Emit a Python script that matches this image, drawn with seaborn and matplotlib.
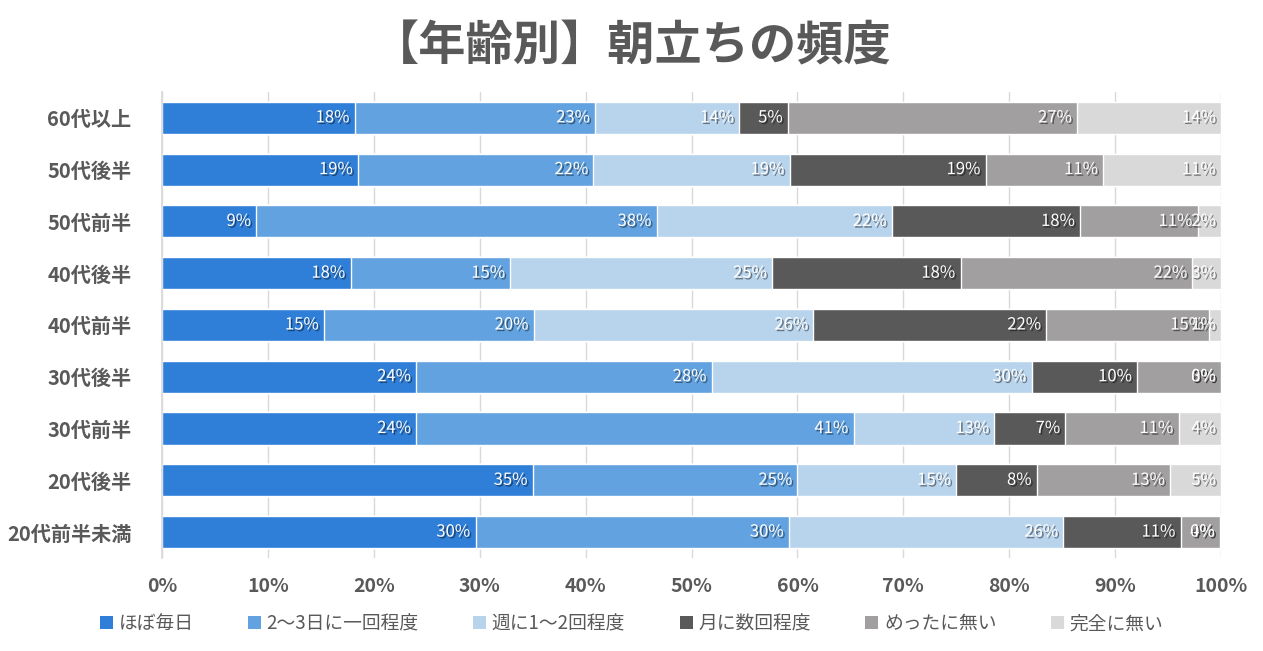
import matplotlib
matplotlib.use("Agg")
import matplotlib.pyplot as plt
import matplotlib.patheffects as pe
from matplotlib.patches import Patch
import seaborn as sns
import pandas as pd
import numpy as np

# data (percent of each age group)
ages = ['60代以上', '50代後半', '50代前半', '40代後半', '40代前半',
        '30代後半', '30代前半', '20代後半', '20代前半未満']
answers = ['ほぼ毎日', '2〜3日に一回程度', '週に1〜2回程度', '月に数回程度', 'めったに無い', '完全に無い']

daily = [18.2, 18.52, 8.9, 17.8, 15.3, 24.0, 24.0, 35.0, 29.6]
every_2_3 = [22.7, 22.22, 37.8, 15.1, 19.8, 27.9, 41.3, 25.0, 29.6]
weekly = [13.6, 18.52, 22.2, 24.7, 26.4, 30.2, 13.3, 15.0, 25.9]
monthly = [4.6, 18.52, 17.8, 17.8, 22.0, 10.0, 6.7, 7.6, 11.1]
rarely = [27.3, 11.11, 11.1, 21.9, 15.4, 7.9, 10.7, 12.6, 3.7]
never = [13.6, 11.11, 2.2, 2.7, 1.1, 0.0, 4.0, 4.8, 0.0]

colors = ['#2F7ED8', '#62A2E0', '#B8D3EC', '#595959', '#A19FA0', '#D9D9D9']
grey = '#595959'

df = pd.DataFrame({'age': ages})
series = [daily, every_2_3, weekly, monthly, rarely, never]
cum = np.cumsum(np.array(series), axis=0)
for i, name in enumerate(answers):
    df[name] = cum[i]

sns.set_theme(style='white')
plt.rcParams['font.family'] = ['Noto Sans CJK JP', 'DejaVu Sans']

fig = plt.figure(figsize=(12.63, 6.51), dpi=100)
ax = fig.add_axes([0.1283, 0.1429, 0.8385, 0.7158])

# stacked bars: draw cumulative totals from the last answer to the first
for i in range(len(answers) - 1, -1, -1):
    sns.barplot(data=df, x=answers[i], y='age', order=ages, color=colors[i],
                width=0.62, saturation=1, ax=ax, zorder=2)

# value labels at the inside end of each segment
shadow = [pe.withSimplePatchShadow(offset=(1.2, -1.2), shadow_rgbFace='black', alpha=0.45)]
for i in range(len(answers)):
    for j in range(len(ages)):
        ax.text(cum[i][j] - 0.5, j, f'{series[i][j]:.0f}%', ha='right', va='center',
                color='white', fontsize=12, path_effects=shadow, zorder=5)

ax.set_xlim(0, 100)
ax.set_xticks(range(0, 101, 10))
ax.set_xticklabels([f'{t}%' for t in range(0, 101, 10)], fontsize=14,
                   fontweight='bold', color=grey)
ax.tick_params(axis='y', labelsize=14.5, labelcolor=grey, length=0, pad=22)
ax.tick_params(axis='x', length=0, pad=14)
for lbl in ax.get_yticklabels():
    lbl.set_fontweight('bold')
ax.set_xlabel('')
ax.set_ylabel('')
ax.xaxis.grid(True, color='#D9D9D9', linewidth=1, zorder=0)
ax.set_axisbelow(True)
for side in ['top', 'right', 'bottom']:
    ax.spines[side].set_visible(False)
ax.spines['left'].set_color('#D9D9D9')

fig.suptitle('【年齢別】朝立ちの頻度', fontsize=34, fontweight='bold', color=grey, y=0.965)

handles = [Patch(facecolor=c, edgecolor='none') for c in colors]
fig.legend(handles, answers, loc='center', bbox_to_anchor=(0.5, 0.042), ncol=6,
           frameon=False, fontsize=13.5, labelcolor=grey, handlelength=0.7,
           handleheight=0.7, handletextpad=0.3, columnspacing=2.9)

fig.savefig('out.png', dpi=100)
